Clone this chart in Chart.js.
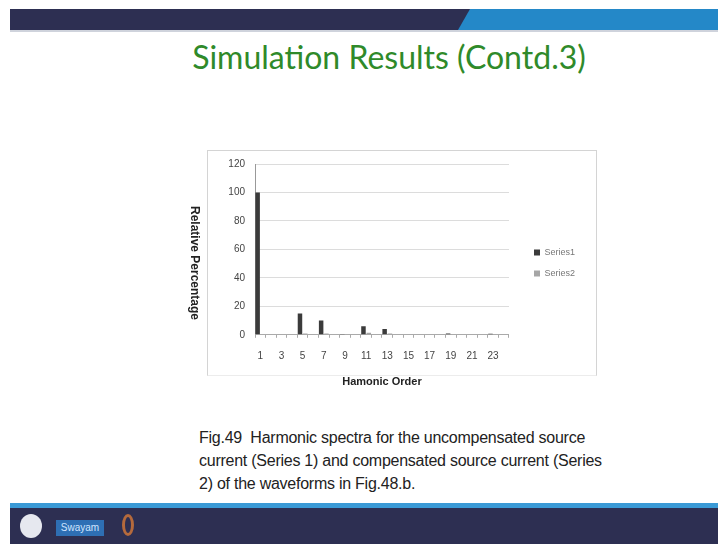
<!DOCTYPE html>
<html>
<head>
<meta charset="utf-8">
<script src="https://cdn.jsdelivr.net/npm/chart.js@4"></script>
<style>
  html, body { margin: 0; padding: 0; }
  body { width: 718px; height: 544px; position: relative; overflow: hidden; background: #fff; font-family: "Liberation Sans", Arial, sans-serif; }
  .topbar { position: absolute; left: 10px; top: 9px; width: 708px; height: 21px; background: #2d2f52; }
  .topblue { position: absolute; left: 458px; top: 9px; width: 270px; height: 21px; background: #2488c8; clip-path: polygon(12px 0, 100% 0, 100% 100%, 0 100%); }
  .topline { position: absolute; left: 10px; top: 30px; width: 708px; height: 2px; background: #cfd3dc; }
  .title { position: absolute; left: 0; width: 718px; top: 37px; text-align: center; padding-left: 60px; box-sizing: border-box; font-family: Lato, "Open Sans", sans-serif; font-size: 32px; color: #2f8a2a; }
  .frame { position: absolute; left: 207px; top: 150px; width: 388px; height: 224px; border: 1px solid #d4d4d4; border-bottom-color: #ececec; }
  .chartbox { position: absolute; left: 180px; top: 140px; width: 420px; height: 260px; }
  .caption { position: absolute; left: 199px; top: 426px; width: 412px; font-family: "Liberation Sans", Arial, sans-serif; font-size: 16px; letter-spacing: -0.25px; line-height: 23px; color: #222; }
  .botline { position: absolute; left: 10px; top: 503px; width: 708px; height: 5px; background: #3a9ad6; }
  .botbar { position: absolute; left: 10px; top: 508px; width: 708px; height: 36px; background: #2d2f52; }
  .logo1 { position: absolute; left: 20px; top: 514px; width: 22px; height: 24px; border-radius: 50%; background: #e6e8ef; }
  .logo2 { position: absolute; left: 56px; top: 520px; width: 48px; height: 16px; background: #2e6fb4; color: #cfe4ff; font-size: 10px; line-height: 16px; text-align: center; }
  .logo3 { position: absolute; left: 122px; top: 514px; width: 12px; height: 22px; border: 3px solid #b56a3c; border-radius: 50%; box-sizing: border-box; }
</style>
</head>
<body>
<div class="topbar"></div>
<div class="topblue"></div>
<div class="topline"></div>
<div class="title">Simulation Results (Contd.3)</div>
<div class="frame"></div>
<div class="chartbox"><canvas id="harmonicChart" width="420" height="260"></canvas></div>
<div class="caption">Fig.49&nbsp; Harmonic spectra for the uncompensated source current (Series 1) and compensated source current (Series 2) of the waveforms in Fig.48.b.</div>
<div class="botline"></div>
<div class="botbar"></div>
<div class="logo1"></div>
<div class="logo2">Swayam</div>
<div class="logo3"></div>

<script>
const harmonicOrders = ['1', '2', '3', '4', '5', '6', '7', '8', '9', '10', '11', '12',
  '13', '14', '15', '16', '17', '18', '19', '20', '21', '22', '23', '24'];
const series1 = [100, 0, 0.3, 0, 15, 0, 10, 0, 0.2, 0, 6, 0, 4, 0, 0, 0, 0, 0, 1, 0, 0, 0, 0.8, 0];
const series2 = [0, 0, 0, 0, 1, 0, 1, 0, 0, 0, 1.5, 0, 1, 0, 0, 0, 0, 0, 0.3, 0, 0, 0, 0.3, 0];
const yTicks = [0, 20, 40, 60, 80, 100, 120];

// y title reads top-to-bottom, so draw it rotated by hand
const yTitlePlugin = {
  id: 'yTitle',
  afterDraw(chart) {
    const c = chart.ctx;
    c.save();
    c.translate(14, 123);
    c.rotate(Math.PI / 2);
    c.font = 'bold 12px "Liberation Sans", Arial, sans-serif';
    c.fillStyle = '#222';
    c.textAlign = 'center';
    c.textBaseline = 'middle';
    c.fillText('Relative Percentage', 0, 0);
    c.restore();
  }
};

// widen the legend box, then nudge it so the items sit where the original has them
const legendSpot = {
  id: 'legendSpot',
  beforeInit(chart) {
    const fit = chart.legend.fit;
    chart.legend.fit = function () {
      fit.call(this);
      this.width += 20;
    };
  },
  afterLayout(chart) {
    const lg = chart.legend;
    lg.left += 13; lg.right += 13;
    lg.top -= 19; lg.bottom -= 19;
  }
};

const ctx = document.getElementById('harmonicChart').getContext('2d');
const harmonicChart = new Chart(ctx, {
  type: 'bar',
  data: {
    labels: harmonicOrders,
    datasets: [{
      label: 'Series1',
      data: series1,
      backgroundColor: '#3b3b3b',
      categoryPercentage: 1.0,
      barPercentage: 0.85,
    }, {
      label: 'Series2',
      data: series2,
      backgroundColor: '#a6a6a6',
      categoryPercentage: 1.0,
      barPercentage: 0.85,
    }]
  },
  options: {
    responsive: false,
    animation: false,
    layout: {
      padding: { top: 24, left: 0, right: 8, bottom: 0 },
    },
    scales: {
      y: {
        min: 0,
        max: 120,
        afterBuildTicks: (axis) => { axis.ticks = yTicks.map(v => ({ value: v })); },
        afterFit: (axis) => { axis.width = 75; },
        ticks: {
          padding: 10,
          color: '#444',
          font: { size: 10, family: '"Liberation Sans", Arial, sans-serif' },
        },
        grid: {
          color: '#dcdcdc',
          drawTicks: false,
        },
        border: { color: '#999' },
      },
      x: {
        offset: true,
        grid: {
          offset: true,
          drawOnChartArea: false,
          tickLength: 3,
          color: '#aaa',
        },
        border: { color: '#aaa' },
        ticks: {
          autoSkip: false,
          maxRotation: 0,
          padding: 12,
          color: '#444',
          font: { size: 10, family: '"Liberation Sans", Arial, sans-serif' },
          callback: function (val, i) { return i % 2 === 0 ? this.getLabelForValue(val) : ''; },
        },
        title: {
          display: true,
          text: 'Hamonic Order',
          color: '#222',
          font: { size: 11, weight: 'bold', family: '"Liberation Sans", Arial, sans-serif' },
          padding: { top: 2, bottom: 11 },
        },
      },
    },
    plugins: {
      legend: {
        position: 'right',
        labels: {
          boxWidth: 6,
          boxHeight: 6,
          padding: 12,
          color: '#777',
          font: { size: 9, family: '"Liberation Sans", Arial, sans-serif' },
        },
      },
      tooltip: { enabled: false },
    },
  },
  plugins: [yTitlePlugin, legendSpot],
});
</script>
</body>
</html>
